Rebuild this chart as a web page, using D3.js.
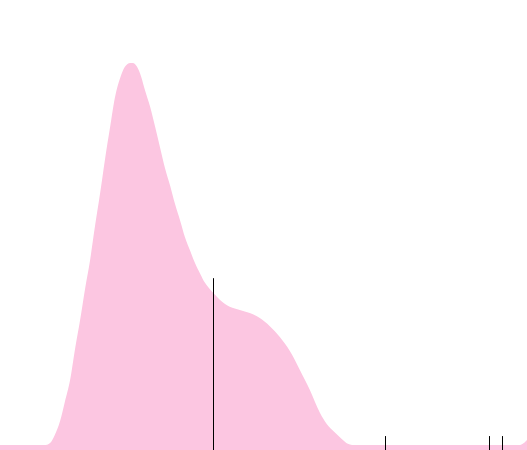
<!DOCTYPE html>
<html>
<head>
<meta charset="utf-8">
<script src="https://cdn.jsdelivr.net/npm/d3@7"></script>
<style>
  body { margin: 0; background: #fff; }
</style>
</head>
<body>
<div id="chart"></div>
<script>
// density curve
var xs = [0, 8.7, 9.5, 10.4, 11.4, 12.3, 13.3, 14.2, 15.2, 16.1, 17.1, 18.0, 19.0, 19.9, 20.9, 21.8, 22.8, 23.7, 24.7, 25.2, 26.0, 26.8, 27.5, 28.5, 29.4, 30.4, 31.3, 32.3, 33.2, 34.2, 35.1, 36.1, 37.0, 38.0, 38.9, 39.8, 40.8, 41.7, 42.7, 43.6, 45.5, 47.4, 49.3, 51.2, 53.1, 55.0, 56.9, 58.8, 60.7, 62.0, 63.4, 64.9, 66.0, 66.8, 98.7, 99.2, 100]
var densities = [0.013, 0.013, 0.018, 0.039, 0.075, 0.124, 0.181, 0.258, 0.336, 0.413, 0.491, 0.576, 0.664, 0.749, 0.835, 0.910, 0.961, 0.990, 1.0, 1.0, 0.990, 0.964, 0.930, 0.886, 0.837, 0.780, 0.729, 0.682, 0.636, 0.592, 0.550, 0.514, 0.483, 0.455, 0.432, 0.416, 0.401, 0.388, 0.377, 0.370, 0.362, 0.354, 0.341, 0.320, 0.292, 0.256, 0.207, 0.155, 0.096, 0.067, 0.047, 0.028, 0.016, 0.013, 0.013, 0.016, 0.026]

// marked values
var meanValue = 40.5
var meanHeight = 0.444
var rugValues = [73.15, 92.9, 95.4]
var rugHeight = 0.036

var width = 527
var height = 450

var svg = d3.select('#chart')
  .append('svg')
  .attr('width', width)
  .attr('height', height)

var xPositionScale = d3.scaleLinear().domain([0, 100]).range([0, width])
var yPositionScale = d3.scaleLinear().domain([0, 1]).range([height, 63])

var points = xs.map(function(x, i) {
  return { x: x, y: densities[i] }
})

var area = d3.area()
  .x(d => xPositionScale(d.x))
  .y0(yPositionScale(0))
  .y1(d => yPositionScale(d.y))
  .curve(d3.curveMonotoneX)

svg.append('path')
  .datum(points)
  .attr('d', area)
  .attr('fill', '#fcc6e1')

function px(v) {
  return Math.floor(xPositionScale(v)) + 0.5
}

svg.append('line')
  .attr('x1', px(meanValue))
  .attr('x2', px(meanValue))
  .attr('y1', yPositionScale(0))
  .attr('y2', yPositionScale(meanHeight))
  .attr('stroke', '#000')
  .attr('stroke-width', 1)

svg.selectAll('.rug')
  .data(rugValues)
  .enter()
  .append('line')
  .attr('class', 'rug')
  .attr('x1', d => px(d))
  .attr('x2', d => px(d))
  .attr('y1', yPositionScale(0))
  .attr('y2', yPositionScale(rugHeight))
  .attr('stroke', '#000')
  .attr('stroke-width', 1)
</script>
</body>
</html>
